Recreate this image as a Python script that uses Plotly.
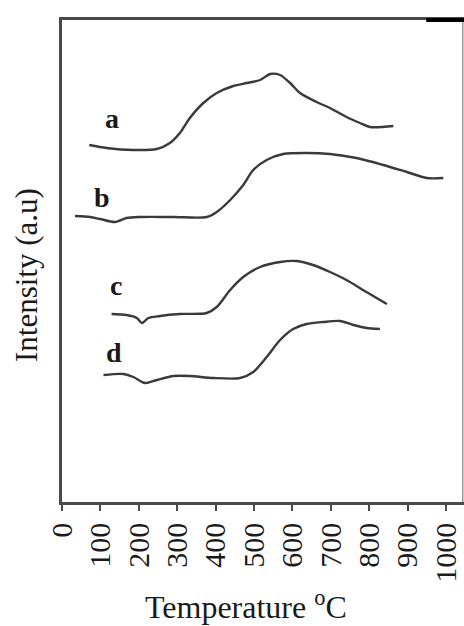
import plotly.graph_objects as go

# Temperature (°C) and intensity (a.u.)
a_T = [71, 116, 186, 247, 281, 307, 333, 368, 403, 446, 481, 516, 542, 568, 594, 620, 663, 698, 741, 776, 802, 863]
a_I = [357, 354, 352, 353, 359, 369, 384, 399, 409, 416, 419, 422, 428, 427, 419, 409, 400, 394, 385, 379, 375, 376]

b_T = [34, 73, 99, 138, 168, 203, 290, 377, 403, 438, 472, 498, 533, 576, 637, 698, 767, 837, 898, 950, 993]
b_I = [286, 285, 283, 280, 284, 285, 285, 285, 290, 302, 317, 332, 342, 348, 349, 348, 344, 337, 330, 324, 324]

c_T = [129, 168, 195, 208, 225, 255, 307, 377, 403, 438, 472, 516, 568, 611, 654, 698, 741, 793, 846]
c_I = [188, 187, 184, 179, 184, 186, 188, 189, 195, 212, 225, 235, 240, 241, 237, 230, 222, 210, 198]

d_T = [108, 160, 186, 216, 247, 290, 333, 394, 464, 498, 533, 568, 602, 637, 680, 724, 759, 793, 828]
d_I = [127, 128, 125, 119, 122, 126, 126, 124, 124, 130, 145, 162, 173, 178, 180, 181, 177, 174, 173]

series_names = ["a", "b", "c", "d"]
label_T = [129, 103, 141, 135]
label_I = [384, 305, 217, 150]

x_ticks = [0, 100, 200, 300, 400, 500, 600, 700, 800, 900, 1000]

SERIF = "Liberation Serif, Times New Roman, serif"
LINE = "#3a3a3a"

fig = go.Figure()
for T, I in [(a_T, a_I), (b_T, b_I), (c_T, c_I), (d_T, d_I)]:
    fig.add_trace(go.Scatter(x=T, y=I, mode="lines",
                             line=dict(color=LINE, width=2.4, shape="spline", smoothing=0.8),
                             showlegend=False, hoverinfo="skip"))

for name, tx, ty in zip(series_names, label_T, label_I):
    fig.add_annotation(x=tx, y=ty, text="<b>%s</b>" % name, showarrow=False,
                       font=dict(family=SERIF, size=28, color="#1a1a1a"))

fig.add_annotation(xref="paper", yref="paper", x=0.458, y=-0.214,
                   text="Temperature <sup>o</sup>C", showarrow=False,
                   xanchor="center", yanchor="middle",
                   font=dict(family=SERIF, size=32, color="#1a1a1a"))

fig.add_annotation(xref="paper", yref="paper", x=-0.087, y=0.471,
                   text="Intensity (a.u)", showarrow=False, textangle=-90,
                   xanchor="center", yanchor="middle",
                   font=dict(family=SERIF, size=31, color="#1a1a1a"))

# right border (light) and thick segment on top-right
fig.add_shape(type="line", xref="paper", yref="paper", x0=0.997, x1=0.997, y0=0, y1=1,
              line=dict(color="#9a9a9a", width=1.5))
fig.add_shape(type="line", xref="paper", yref="paper", x0=0.906, x1=1.0, y0=1, y1=1,
              line=dict(color="#000000", width=4))

fig.update_layout(
    width=464, height=626,
    margin=dict(l=62, r=0, t=20, b=124),
    plot_bgcolor="white", paper_bgcolor="white",
    xaxis=dict(range=[0, 1047], tickmode="array", tickvals=x_ticks,
               ticktext=[str(v) for v in x_ticks], tickangle=-90,
               showline=True, linecolor="#4a4a4a", linewidth=2.5, mirror=True,
               ticks="outside", ticklen=6, tickwidth=2, tickcolor="#4a4a4a",
               showgrid=False, zeroline=False, automargin=False,
               tickfont=dict(family=SERIF, size=30, color="#1a1a1a")),
    yaxis=dict(range=[0, 482], showticklabels=False, ticks="",
               showline=True, linecolor="#4a4a4a", linewidth=2.5, mirror=False,
               showgrid=False, zeroline=False, automargin=False),
)

fig.write_html("out.html", config={"displayModeBar": False},
               post_script="document.body.style.margin='0';document.body.style.overflow='hidden';")
